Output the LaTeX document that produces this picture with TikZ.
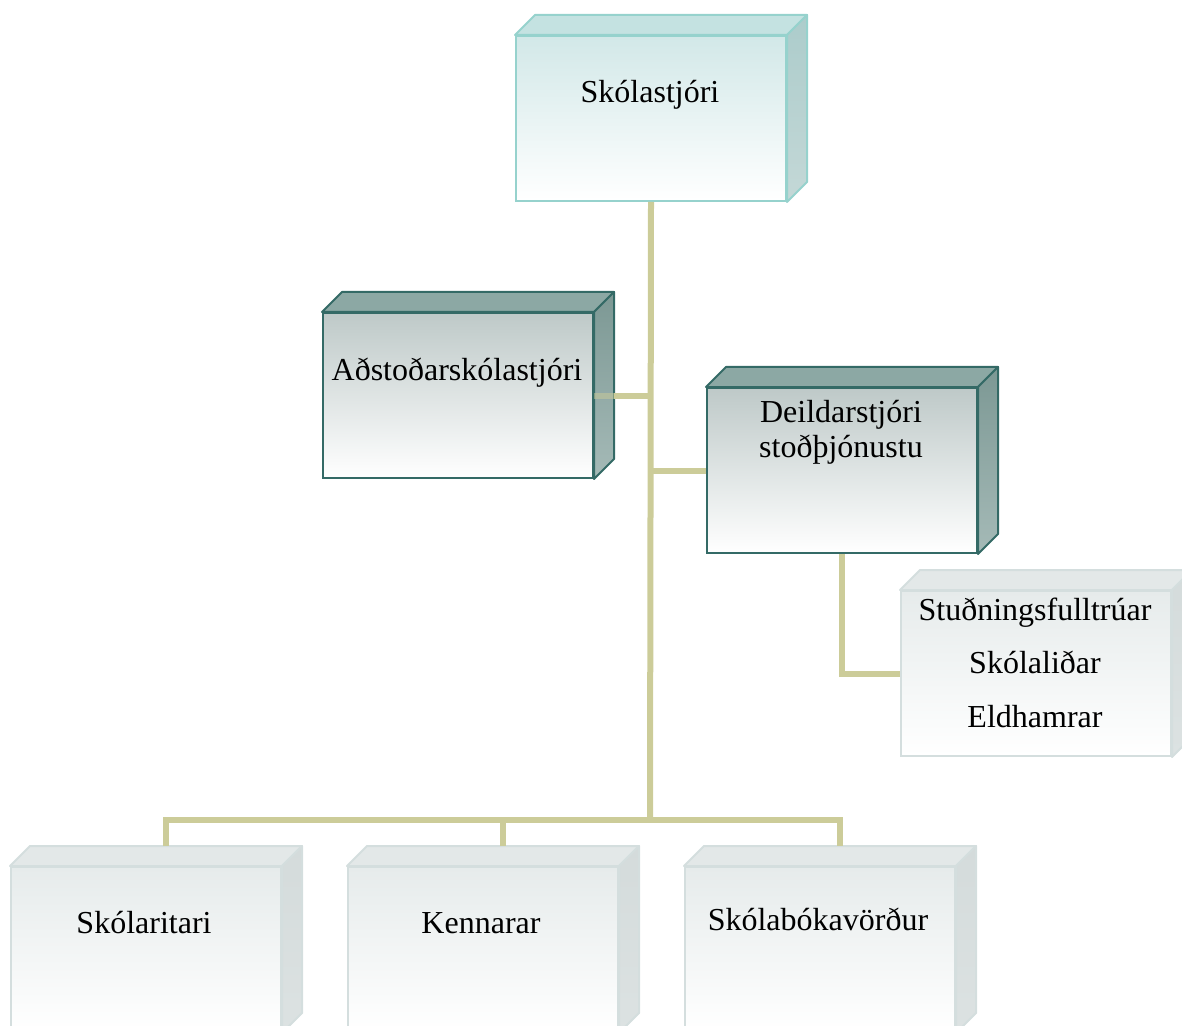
\documentclass[tikz,border=0pt]{standalone}
\usepackage{fontspec}
\setmainfont{Liberation Serif}
\usetikzlibrary{calc}
\definecolor{ramo}{RGB}{204,204,153}
\definecolor{azzbordo}{RGB}{150,210,205}
\definecolor{azzfronte}{RGB}{210,232,232}
\definecolor{azztetto}{RGB}{196,226,225}
\definecolor{azzlato}{RGB}{172,204,203}
\definecolor{azzlatob}{RGB}{196,216,215}
\definecolor{scurobordo}{RGB}{52,106,102}
\definecolor{scurofronte}{RGB}{190,201,200}
\definecolor{scurotetto}{RGB}{140,168,164}
\definecolor{scurolato}{RGB}{124,152,148}
\definecolor{scurolatob}{RGB}{165,186,183}
\definecolor{grigiobordo}{RGB}{212,222,222}
\definecolor{grigiofronte}{RGB}{230,235,235}
\definecolor{grigiotetto}{RGB}{227,232,232}
\definecolor{grigiolato}{RGB}{212,219,219}
\definecolor{grigiolatob}{RGB}{220,226,226}
\newcommand{\retro}[2]{% tetto e lato della scatola #1
    \filldraw[fill=#2tetto, draw=#2bordo, line width=1pt, line join=round] (#1.north west) -- ++(\prof,-\prof) -- ($(#1.north east)+(\prof,-\prof)$) -- (#1.north east) -- cycle;
    \filldraw[top color=#2lato, bottom color=#2latob, draw=#2bordo, line width=1pt, line join=round] (#1.north east) -- ++(\prof,-\prof) -- ($(#1.south east)+(\prof,-\prof)$) -- (#1.south east) -- cycle;
}

\begin{document}
\begin{tikzpicture}[x=0.5pt, y=-0.5pt,
    fronte/.style={draw=#1bordo, line width=1pt, top color=#1fronte, bottom color=white, minimum width=135pt, minimum height=82.5pt, inner sep=0pt, anchor=north west},
    testo/.style={font=\fontsize{16}{20}\selectfont, anchor=base, inner sep=0pt},
    linea/.style={draw=ramo, line width=3pt}]
    % Parametri
    \pgfmathsetmacro{\prof}{20}
    \path[use as bounding box] (0,0) rectangle (1182,1026);
    \clip (0,0) rectangle (1182,1026);
    % Scatole
    \node[fronte=azz] (capo) at (515,35) {};
    \retro{capo}{azz}
    \node[fronte=scuro] (vice) at (322,312) {};
    \retro{vice}{scuro}
    \node[fronte=scuro] (reparto) at (706,387) {};
    \retro{reparto}{scuro}
    \node[fronte=grigio] (supporto) at (900,590) {};
    \retro{supporto}{grigio}
    \node[fronte=grigio] (segreteria) at (10,866) {};
    \retro{segreteria}{grigio}
    \node[fronte=grigio] (docenti) at (347,866) {};
    \retro{docenti}{grigio}
    \node[fronte=grigio] (biblioteca) at (684,866) {};
    \retro{biblioteca}{grigio}
    % Testi (base = ultima riga)
    \node[testo] (tcapo) at (650,103) {Skólastjóri};
    \node[testo] (tvice) at (457,380) {Aðstoðarskólastjóri};
    \node[testo, align=center, font=\fontsize{16}{17.5}\selectfont] (treparto) at (841,457) {Deildarstjóri\\stoðþjónustu};
    \node[testo, align=center, font=\fontsize{16}{26.7}\selectfont] (tsupporto) at (1035,727) {Stuðningsfulltrúar\\Skólaliðar\\Eldhamrar};
    \node[testo] (tsegreteria) at (144,933) {Skólaritari};
    \node[testo] (tdocenti) at (481,933) {Kennarar};
    \node[testo] (tbiblioteca) at (818,930) {Skólabókavörður};
    % Rami
    \coordinate (nodo) at (650,820);
    \coordinate (asegr) at ($(segreteria.north)+(\prof,-\prof)$);
    \coordinate (adoc) at ($(docenti.north)+(\prof,-\prof)$);
    \coordinate (abibl) at ($(biblioteca.north)+(\prof,-\prof)$);
    \draw[linea] (capo.south) -- (nodo);
    \draw[linea, opacity=0.5] (vice.east) -- ++(\prof,0);
    \draw[linea] ($(vice.east)+(\prof,0)$) -- (vice.east -| capo.south);
    \draw[linea] (reparto.west) -- (reparto.west -| capo.south);
    \draw[linea] (reparto.south) |- (supporto.west);
    \draw[linea] (asegr) |- (nodo) -| (abibl);
    \draw[linea] (adoc) -- (adoc |- nodo);
\end{tikzpicture}
\end{document}
